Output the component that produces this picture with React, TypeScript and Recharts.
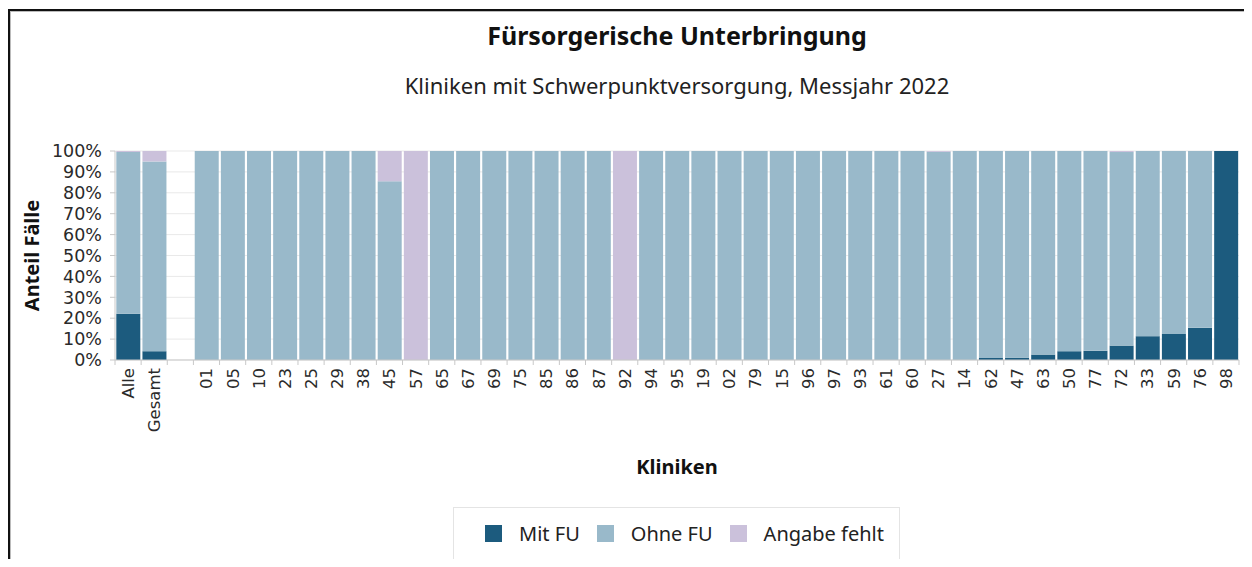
import React from 'react';
import { BarChart, Bar, XAxis, YAxis, CartesianGrid, Legend } from 'recharts';

// Kliniken in der Reihenfolge der Grafik ('' = Leerspalte zwischen Gesamt und Einzelkliniken)
const kliniken = [
  'Alle', 'Gesamt', '',
  '01', '05', '10', '23', '25', '29', '38', '45', '57', '65', '67', '69', '75', '85', '86', '87', '92', '94',
  '95', '19', '02', '79', '15', '96', '97', '93', '61', '60', '27', '14', '62', '47', '63', '50', '77', '72',
  '33', '59', '76', '98',
];

// Anteile in %
const mitFU = [
  22.1, 4.2, null,
  0, 0, 0, 0, 0, 0, 0, 0, 0, 0, 0, 0, 0, 0, 0, 0, 0, 0,
  0, 0, 0, 0, 0, 0, 0, 0, 0, 0, 0, 0, 1.0, 1.1, 2.6, 4.2, 4.4, 6.9,
  11.4, 12.5, 15.4, 100,
];
const ohneFU = [
  77.4, 90.8, null,
  100, 100, 100, 100, 100, 100, 100, 85.5, 0, 100, 100, 100, 100, 100, 100, 100, 0, 100,
  100, 100, 100, 100, 100, 100, 100, 100, 100, 100, 99.6, 100, 99.0, 98.9, 97.4, 95.8, 95.6, 92.6,
  88.6, 87.5, 84.6, 0,
];
const angabeFehlt = [
  0.5, 5.0, null,
  0, 0, 0, 0, 0, 0, 0, 14.5, 100, 0, 0, 0, 0, 0, 0, 0, 100, 0,
  0, 0, 0, 0, 0, 0, 0, 0, 0, 0, 0.4, 0, 0, 0, 0, 0, 0, 0.5,
  0, 0, 0, 0,
];

const yTicks = [0, 10, 20, 30, 40, 50, 60, 70, 80, 90, 100];

const series = [
  { key: 'mitFU', name: 'Mit FU', color: '#1c5b7e' },
  { key: 'ohneFU', name: 'Ohne FU', color: '#99b9ca' },
  { key: 'angabeFehlt', name: 'Angabe fehlt', color: '#cbc1db' },
];

const data = kliniken.map((k, i) => ({
  klinik: k || ' ',
  mitFU: mitFU[i],
  ohneFU: ohneFU[i],
  angabeFehlt: angabeFehlt[i],
}));

const W = 1244;
const H = 551;
const margin = { top: 143, right: 13, left: 0, bottom: 79 };
const yAxisW = 107;
const band = (W - margin.left - margin.right - yAxisW) / kliniken.length;
const axisGray = '#c8c8c8';

function KlinikTick(props: any) {
  const { x, y, payload, index } = props;
  return (
    <g transform={`translate(${x},${y})`}>
      <line x1={-band / 2} x2={-band / 2} y1={0} y2={5} stroke={axisGray} />
      {index === kliniken.length - 1 && (
        <line x1={band / 2} x2={band / 2} y1={0} y2={5} stroke={axisGray} />
      )}
      <text
        transform="rotate(-90)"
        x={-8}
        y={0}
        dy="0.36em"
        textAnchor="end"
        fontSize={16.5}
        fontFamily="'DejaVu Sans', sans-serif"
        fill="#2a2a2a"
      >
        {payload.value}
      </text>
    </g>
  );
}

function LegendBox(props: any) {
  const order = series.map((s) => s.name);
  const items = [...(props.payload || [])].sort(
    (a: any, b: any) => order.indexOf(a.value) - order.indexOf(b.value),
  );
  return (
    <div
      style={{
        boxSizing: 'border-box',
        width: '100%',
        height: '100%',
        paddingLeft: 16,
        border: '1px solid #e4e4e4',
        display: 'flex',
        alignItems: 'center',
        justifyContent: 'center',
        fontFamily: "'Noto Sans', sans-serif",
        fontSize: 20,
        color: '#222',
      }}
    >
      {items.map((it: any, i: number) => (
        <div key={it.value} style={{ display: 'flex', alignItems: 'center', marginLeft: i ? 17 : 0 }}>
          <span style={{ display: 'inline-block', width: 17, height: 17, background: it.color, marginRight: 17 }} />
          <span>{it.value}</span>
        </div>
      ))}
    </div>
  );
}

export default function App() {
  return (
    <div style={{ position: 'relative', width: W, height: H, fontFamily: "'Noto Sans', sans-serif", background: '#fff' }}>
      <div
        style={{
          position: 'absolute',
          left: 0,
          top: 1,
          right: 0,
          bottom: 0,
          borderTop: '2px solid #111',
          borderLeft: '2px solid #111',
          borderRight: '1px solid #999',
          boxShadow: 'inset 1px 1px 0 #bbb',
          pointerEvents: 'none',
        }}
      />
      <div
        style={{
          position: 'absolute',
          left: 669,
          top: 10,
          transform: 'translateX(-50%)',
          whiteSpace: 'nowrap',
          fontSize: 25,
          fontWeight: 700,
          lineHeight: '34px',
          color: '#111',
        }}
      >
        Fürsorgerische Unterbringung
      </div>
      <div
        style={{
          position: 'absolute',
          left: 669,
          top: 61,
          transform: 'translateX(-50%)',
          whiteSpace: 'nowrap',
          fontSize: 22,
          lineHeight: '32px',
          color: '#222',
        }}
      >
        Kliniken mit Schwerpunktversorgung, Messjahr 2022
      </div>
      <BarChart width={W} height={H} data={data} margin={margin} barCategoryGap="5%">
        <CartesianGrid vertical={false} stroke="#e9e9e9" />
        <XAxis
          dataKey="klinik"
          interval={0}
          height={120}
          tickLine={false}
          tickSize={0}
          tickMargin={0}
          axisLine={{ stroke: axisGray }}
          tick={<KlinikTick />}
          label={{
            value: 'Kliniken',
            position: 'insideBottom',
            offset: 6,
            style: { fontSize: 20, fontWeight: 700, fill: '#111', fontFamily: "'Noto Sans', sans-serif" },
          }}
        />
        <YAxis
          width={yAxisW}
          domain={[0, 100]}
          ticks={yTicks}
          interval={0}
          tickFormatter={(v: number) => `${v}%`}
          tickSize={5}
          tickMargin={8}
          tickLine={{ stroke: axisGray }}
          axisLine={{ stroke: axisGray }}
          tick={{ fontSize: 17.5, fill: '#2a2a2a', fontFamily: "'DejaVu Sans', sans-serif" }}
          label={{
            value: 'Anteil Fälle',
            angle: -90,
            position: 'center',
            dx: -30,
            style: { fontSize: 20, fontWeight: 700, fill: '#111', fontFamily: "'Noto Sans', sans-serif" },
          }}
        />
        <Legend
          layout="horizontal"
          verticalAlign="middle"
          align="center"
          wrapperStyle={{ position: 'absolute', left: 445, top: 499, width: 447, height: 53 }}
          content={<LegendBox />}
        />
        {series.map((s) => (
          <Bar key={s.key} dataKey={s.key} name={s.name} stackId="a" fill={s.color} isAnimationActive={false} />
        ))}
      </BarChart>
    </div>
  );
}
